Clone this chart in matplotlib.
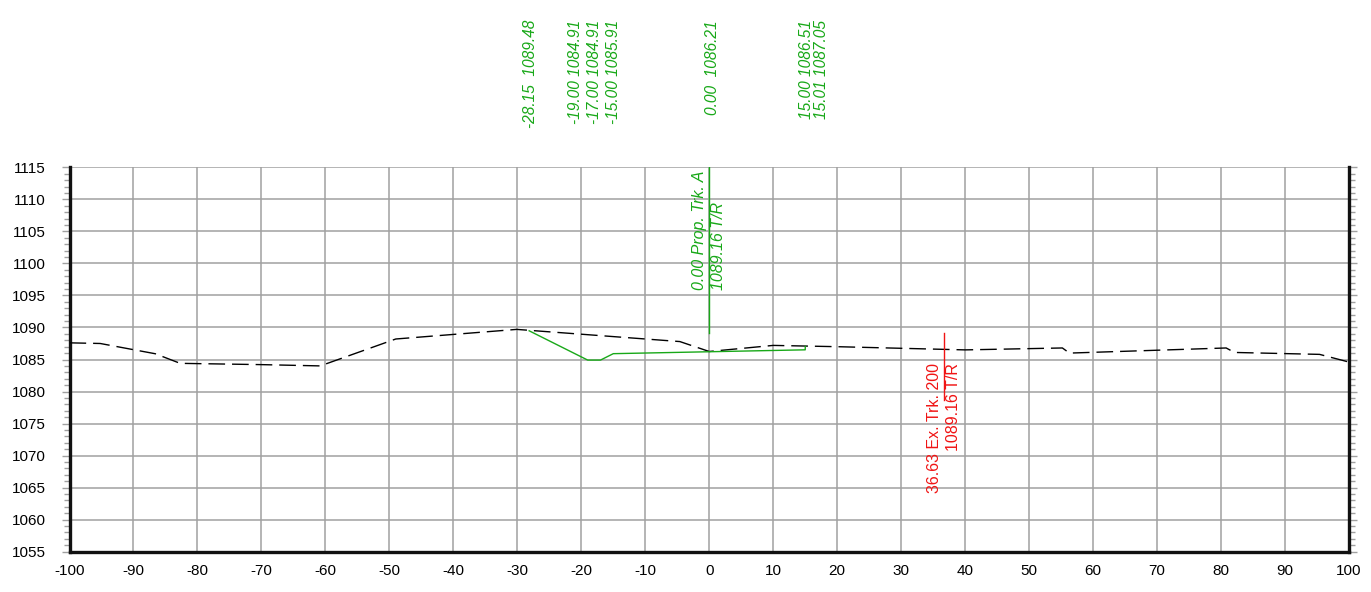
import numpy as np
import matplotlib.pyplot as plt
from matplotlib.ticker import MultipleLocator
import matplotlib.transforms as mtransforms

plt.rcParams['font.family'] = ['Liberation Sans', 'DejaVu Sans']
plt.rcParams['axes.unicode_minus'] = False

# existing ground (black dashed)
ground_x = [-100, -95.2, -86.6, -82.7, -70, -60.8, -49, -30.1, -4.6, 0, 10, 20,
            40, 55.2, 56.3, 80.8, 82.1, 95.4, 100]
ground_y = [1087.6, 1087.5, 1085.9, 1084.4, 1084.2, 1084.0, 1088.2, 1089.7, 1087.8,
            1086.25, 1087.2, 1087.0, 1086.5, 1086.8, 1086.0, 1086.8, 1086.1,
            1085.8, 1084.6]

# proposed section (green)
prop_off = [-28.15, -19.00, -17.00, -15.00, 0.00, 15.00, 15.01]
prop_elev = [1089.48, 1084.91, 1084.91, 1085.91, 1086.21, 1086.51, 1087.05]
prop_labels = ['-28.15  1089.48', '-19.00 1084.91', '-17.00 1084.91',
               '-15.00 1085.91', '0.00  1086.21', '15.00 1086.51', '15.01 1087.05']
label_pos = [-28.0, -20.95, -18.0, -15.0, 0.5, 15.2, 17.5]

# track markers
prop_trk_x, prop_trk_elev = 0.00, 1089.16
ex_trk_x, ex_trk_elev = 36.63, 1089.16

green = '#18a818'
red = '#f01414'
grid_c = '#a0a0a0'

fig = plt.figure(figsize=(13.71, 5.92), dpi=100)
ax = fig.add_axes([69.5 / 1371, 1 - 551.7 / 592, (1349 - 69.5) / 1371, (551.7 - 167.3) / 592])

ax.set_xlim(-100, 100)
ax.set_ylim(1055, 1115)
ax.xaxis.set_major_locator(MultipleLocator(10))
ax.yaxis.set_major_locator(MultipleLocator(5))
ax.yaxis.set_minor_locator(MultipleLocator(1))
ax.grid(True, which='major', color=grid_c, lw=1.1)
ax.set_axisbelow(True)

ax.tick_params(axis='x', which='both', length=0, pad=9, labelsize=11)
ax.tick_params(axis='y', which='major', left=True, right=True, length=6, width=1,
               color=grid_c, pad=11, labelsize=11)
ax.tick_params(axis='y', which='minor', left=True, right=True, length=4, width=1,
               color=grid_c)

for s in ['left', 'right', 'bottom']:
    ax.spines[s].set_linewidth(2.4)
    ax.spines[s].set_color('#111111')
ax.spines['top'].set_visible(False)

# ground line
ln, = ax.plot(ground_x, ground_y, color='black', lw=1.0, zorder=3)
ln.set_dashes((12, 5))

# proposed section
ax.plot(prop_off, prop_elev, color=green, lw=1.0, zorder=4)

# proposed track marker
ax.plot([prop_trk_x, prop_trk_x], [prop_trk_elev, 1115], color=green, lw=1.0, zorder=4)
ax.text(prop_trk_x - 0.3, 1095.9, '0.00 Prop. Trk. A', rotation=90, color=green,
        fontsize=11.5, style='italic', ha='right', va='bottom')
ax.text(prop_trk_x + 0.3, 1095.9, '1089.16 T/R', rotation=90, color=green,
        fontsize=11.5, style='italic', ha='left', va='bottom')

# existing track marker
ax.plot([ex_trk_x, ex_trk_x], [ex_trk_elev, ex_trk_elev - 10.5], color=red, lw=1.0, zorder=4)
ax.text(ex_trk_x - 0.3, 1084.4, '36.63 Ex. Trk. 200', rotation=90, color=red,
        fontsize=11.5, ha='right', va='top')
ax.text(ex_trk_x + 0.3, 1084.4, '1089.16 T/R', rotation=90, color=red,
        fontsize=11.5, ha='left', va='top')

# offset / elevation labels above the chart
trans = mtransforms.blended_transform_factory(ax.transData, ax.transAxes)
for xp, lab in zip(label_pos, prop_labels):
    ax.text(xp, 1.383, lab, rotation=90, color=green, fontsize=11.2, style='italic',
            ha='center', va='top', transform=trans, clip_on=False)

fig.savefig('out.png', dpi=100)
